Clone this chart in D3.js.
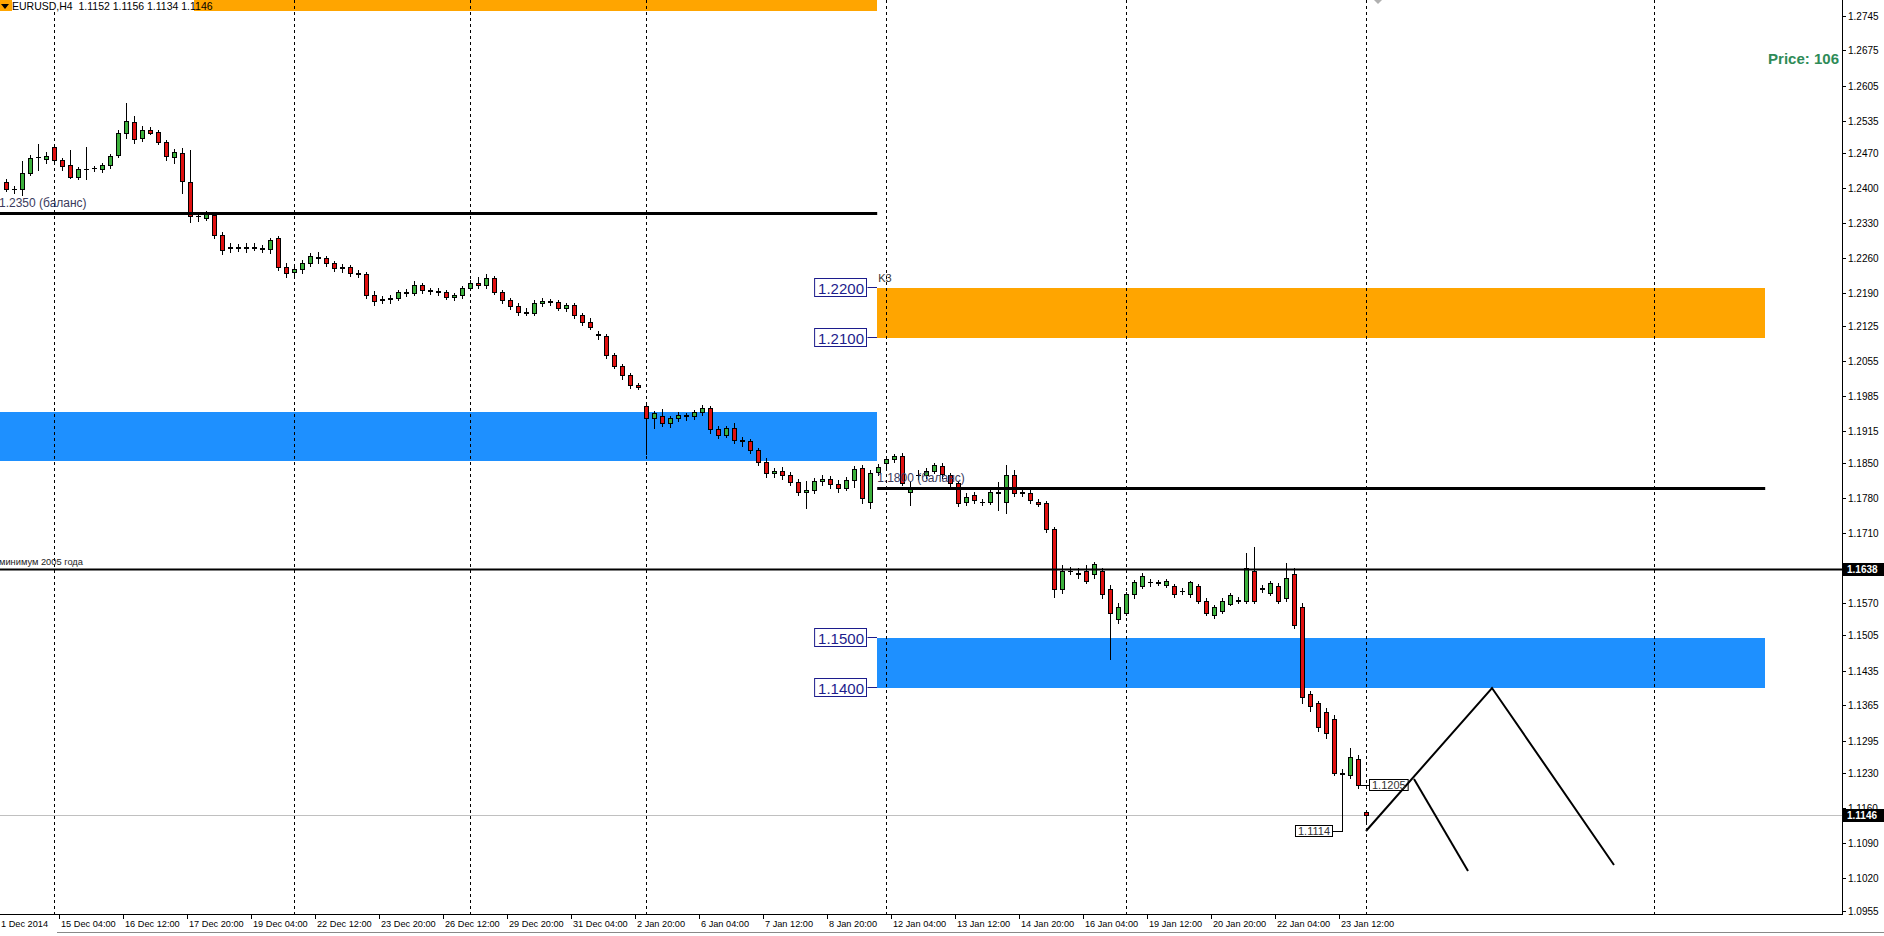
<!DOCTYPE html>
<html><head><meta charset="utf-8">
<script src="https://cdn.jsdelivr.net/npm/d3@7"></script>
<style>body{margin:0;background:#fff;overflow:hidden}svg{display:block}</style>
</head><body>
<svg id="c" width="1884" height="936"></svg>
<script>
// ---------------- DATA ----------------
const firstBar = -6; // bar index of first candle (0 = 15 Dec 00:00)
const opens  = [1.2412,1.2398,1.2398,1.2430,1.2462,1.2458,
1.2482,1.2456,1.2446,1.2422,1.2438,1.2440,
1.2438,1.2446,1.2466,1.2510,1.2532,1.2500,
1.2516,1.2512,1.2492,1.2462,1.2470,1.2412,
1.2344,1.2340,1.2346,1.2306,1.2280,1.2282,
1.2280,1.2282,1.2280,1.2278,1.2300,1.2243,
1.2232,1.2238,1.2250,1.2262,1.2260,1.2250,
1.2240,1.2242,1.2230,1.2228,1.2186,1.2176,
1.2178,1.2180,1.2192,1.2190,
1.2206,1.2196,1.2194,1.2192,1.2182,1.2186,
1.2200,1.2210,1.2206,1.2220,1.2192,1.2176,
1.2164,1.2152,1.2150,1.2170,1.2174,1.2172,
1.2160,1.2166,1.2146,1.2132,
1.2108,1.2104,1.2066,1.2044,1.2026,1.2006,
1.1964,1.1940,1.1945,1.1930,1.1940,1.1946,
1.1944,1.1952,1.1960,1.1918,1.1906,1.1920,
1.1896,1.1894,1.1876,1.1852,1.1830,1.1834,
1.1826,1.1812,1.1792,1.1796,1.1814,1.1818,
1.1808,1.1800,1.1816,1.1840,1.1772,1.1832,
1.1850,1.1858,1.1864,1.1792,1.1826,1.1826,
1.1835,1.1844,1.1826,1.1810,1.1772,1.1786,
1.1772,1.1772,1.1790,1.1772,1.1826,1.1790,
1.1790,1.1772,1.1770,1.1718,1.1599,1.1635,
1.1630,1.1635,1.1627,1.1635,1.1599,1.1538,
1.1550,1.1587,1.1604,1.1611,1.1611,1.1606,
1.1603,1.1594,1.1587,1.1603,1.1575,1.1545,
1.1555,1.1568,1.1575,1.1575,1.1635,1.1599,
1.1590,1.1603,1.1580,1.1627,1.1562,1.1387,
1.1370,1.1353,1.1339,1.1231,1.1226,1.1258,
1.1152];
const highs  = [1.2418,1.2404,1.2454,1.2466,1.2488,1.2472,
1.2486,1.2460,1.2476,1.2442,1.2482,1.2444,
1.2450,1.2468,1.2516,1.2570,1.2545,1.2525,
1.2522,1.2515,1.2496,1.2478,1.2480,1.2476,
1.2352,1.2354,1.2350,1.2312,1.2290,1.2288,
1.2290,1.2290,1.2286,1.2300,1.2304,1.2250,
1.2245,1.2256,1.2270,1.2272,1.2265,1.2255,
1.2248,1.2246,1.2236,1.2232,1.2194,1.2184,
1.2186,1.2196,1.2198,1.2215,
1.2210,1.2200,1.2200,1.2196,1.2190,1.2204,
1.2216,1.2222,1.2228,1.2224,1.2196,1.2180,
1.2170,1.2160,1.2176,1.2180,1.2178,1.2176,
1.2170,1.2170,1.2150,1.2140,
1.2114,1.2108,1.2070,1.2048,1.2030,1.2010,
1.1971,1.1955,1.1958,1.1945,1.1952,1.1950,
1.1956,1.1966,1.1964,1.1925,1.1925,1.1930,
1.1902,1.1898,1.1880,1.1860,1.1840,1.1842,
1.1832,1.1818,1.1815,1.1820,1.1826,1.1824,
1.1816,1.1822,1.1844,1.1846,1.1836,1.1848,
1.1860,1.1868,1.1870,1.1812,1.1836,1.1840,
1.1850,1.1850,1.1830,1.1814,1.1790,1.1792,
1.1778,1.1796,1.1812,1.1846,1.1836,1.1796,
1.1796,1.1778,1.1774,1.1722,1.1645,1.1642,
1.1640,1.1645,1.1652,1.1640,1.1605,1.1570,
1.1592,1.1616,1.1630,1.1618,1.1616,1.1618,
1.1608,1.1600,1.1615,1.1608,1.1580,1.1566,
1.1580,1.1590,1.1582,1.1670,1.1683,1.1606,
1.1615,1.1610,1.1650,1.1640,1.1570,1.1395,
1.1375,1.1360,1.1345,1.1238,1.1280,1.1265,
1.1156];
const lows   = [1.2394,1.2390,1.2386,1.2426,1.2436,1.2450,
1.2450,1.2436,1.2420,1.2418,1.2418,1.2434,
1.2432,1.2440,1.2462,1.2500,1.2490,1.2495,
1.2508,1.2488,1.2456,1.2450,1.2390,1.2332,
1.2334,1.2336,1.2300,1.2268,1.2272,1.2274,
1.2272,1.2276,1.2272,1.2270,1.2236,1.2222,
1.2225,1.2230,1.2245,1.2250,1.2245,1.2235,
1.2232,1.2225,1.2222,1.2180,1.2166,1.2170,
1.2170,1.2176,1.2184,1.2186,
1.2190,1.2188,1.2186,1.2178,1.2176,1.2180,
1.2196,1.2200,1.2200,1.2188,1.2170,1.2158,
1.2146,1.2146,1.2146,1.2164,1.2166,1.2156,
1.2154,1.2140,1.2126,1.2118,
1.2098,1.2060,1.2040,1.2018,1.2000,1.1998,
1.1868,1.1920,1.1925,1.1922,1.1934,1.1936,
1.1938,1.1946,1.1910,1.1900,1.1902,1.1890,
1.1884,1.1870,1.1846,1.1822,1.1822,1.1818,
1.1806,1.1786,1.1760,1.1790,1.1806,1.1800,
1.1792,1.1796,1.1802,1.1770,1.1760,1.1826,
1.1842,1.1852,1.1806,1.1766,1.1818,1.1820,
1.1830,1.1820,1.1800,1.1764,1.1766,1.1770,
1.1766,1.1768,1.1756,1.1750,1.1784,1.1784,
1.1770,1.1764,1.1712,1.1582,1.1590,1.1628,
1.1620,1.1610,1.1620,1.1580,1.1459,1.1530,
1.1545,1.1580,1.1600,1.1604,1.1606,1.1602,
1.1582,1.1588,1.1582,1.1570,1.1545,1.1540,
1.1550,1.1565,1.1570,1.1570,1.1570,1.1592,
1.1585,1.1570,1.1575,1.1520,1.1370,1.1355,
1.1315,1.1300,1.1225,1.1114,1.1220,1.1200,
1.1134];
const closes = [1.2398,1.2399,1.2430,1.2460,1.2463,1.2464,
1.2456,1.2444,1.2422,1.2438,1.2439,1.2441,
1.2446,1.2464,1.2510,1.2534,1.2498,1.2516,
1.2510,1.2492,1.2464,1.2472,1.2414,1.2344,
1.2345,1.2348,1.2306,1.2276,1.2282,1.2280,
1.2282,1.2280,1.2278,1.2296,1.2243,1.2230,
1.2238,1.2250,1.2264,1.2260,1.2250,1.2240,
1.2242,1.2230,1.2228,1.2186,1.2175,1.2178,
1.2180,1.2192,1.2190,1.2206,
1.2196,1.2194,1.2192,1.2182,1.2186,1.2200,
1.2210,1.2206,1.2220,1.2192,1.2176,1.2164,
1.2152,1.2150,1.2170,1.2174,1.2172,1.2160,
1.2166,1.2146,1.2132,1.2122,
1.2106,1.2066,1.2044,1.2026,1.2006,1.2003,
1.1940,1.1950,1.1930,1.1940,1.1946,1.1944,
1.1952,1.1960,1.1918,1.1906,1.1920,1.1896,
1.1894,1.1876,1.1852,1.1830,1.1834,1.1826,
1.1812,1.1792,1.1796,1.1814,1.1818,1.1808,
1.1800,1.1816,1.1838,1.1780,1.1830,1.1842,
1.1858,1.1864,1.1810,1.1802,1.1826,1.1834,
1.1846,1.1828,1.1810,1.1770,1.1782,1.1776,
1.1773,1.1792,1.1792,1.1826,1.1790,1.1791,
1.1776,1.1768,1.1718,1.1599,1.1635,1.1634,
1.1627,1.1615,1.1647,1.1587,1.1550,1.1562,
1.1587,1.1611,1.1623,1.1612,1.1610,1.1614,
1.1587,1.1595,1.1611,1.1575,1.1550,1.1562,
1.1575,1.1585,1.1576,1.1640,1.1575,1.1600,
1.1610,1.1575,1.1620,1.1526,1.1382,1.1363,
1.1322,1.1310,1.1231,1.1228,1.1262,1.1205,
1.1146];

const priceTicks = [1.2745,1.2675,1.2605,1.2535,1.2470,1.2400,1.2330,1.2260,1.2190,1.2125,1.2055,1.1985,1.1915,1.1850,1.1780,1.1710,1.1570,1.1505,1.1435,1.1365,1.1295,1.1230,1.1160,1.1090,1.1020,1.0955];
const timeTickBars   = [1,9,17,25,33,41,49,57,65,73,81,89,97,105,113,121,129,137,145,153,161];
const timeTickLabels = ["15 Dec 04:00","16 Dec 12:00","17 Dec 20:00","19 Dec 04:00","22 Dec 12:00","23 Dec 20:00","26 Dec 12:00","29 Dec 20:00","31 Dec 04:00","2 Jan 20:00","6 Jan 04:00","7 Jan 12:00","8 Jan 20:00","12 Jan 04:00","13 Jan 12:00","14 Jan 20:00","16 Jan 04:00","19 Jan 12:00","20 Jan 20:00","22 Jan 04:00","23 Jan 12:00"];
const firstTimeLabel = "1 Dec 2014";
const separatorBars = [0,30,52,74,104,134,164,200];

// zones (rectangles): price top/bottom, start/end bar
const zoneTop      = [1.2900, 1.1953, 1.2200, 1.1500];
const zoneBottom   = [1.2754, 1.1855, 1.2100, 1.1400];
const zoneStart    = [-8, -8, 102.9, 102.9];
const zoneEnd      = [102.9, 102.9, 213.9, 213.9];
const zoneIsOrange = [true, false, true, false];

// horizontal levels
const levelPrice  = [1.2350, 1.1800, 1.1638];
const levelStart  = [-8, 102.9, -8];
const levelEnd    = [102.9, 213.9, 223.5];
const levelLabels = ["1.2350 (баланс)", "1.1800 (баланс)", "минимум 2005 года"];

// price label boxes at the zone edges
const edgeLabelPrices = [1.2200, 1.2100, 1.1500, 1.1400];
const edgeLabelTexts  = ["1.2200", "1.2100", "1.1500", "1.1400"];

const bidPrice = 1.1146;
const hiLabelPrices = [1.1638, 1.1146];

// forecast zigzags
const zigABars = [164, 179.75, 195];
const zigAPrices = [1.1114, 1.1400, 1.1046];
const zigBBars = [170, 176.75];
const zigBPrices = [1.1218, 1.1034];

// small price tags
const tagBars = [163, 161];
const tagPrices = [1.1205, 1.1114];
const tagTexts = ["1.1205", "1.1114"];

// arrow object at the top edge
const markBar = 165.5;

const titleText = "EURUSD,H4  1.1152 1.1156 1.1134 1.1146";
const infoText = "Price: 106";

// ---------------- DRAW ----------------
const W = 1884, H = 936, plotR = 1842, plotB = 914;
const FONT = "'Liberation Sans', Arial, sans-serif";
const svg = d3.select("#c");
const x = d3.scaleLinear().domain([-6.75, 223.5]).range([0, plotR]);
const y = d3.scaleLinear().domain([1.0948, 1.2776]).range([plotB, 0]);

svg.append("rect").attr("width", W).attr("height", H).attr("fill", "#fff");
svg.append("defs").append("clipPath").attr("id", "plot")
  .append("rect").attr("x", 0).attr("y", 0).attr("width", plotR).attr("height", plotB);
const g = svg.append("g").attr("clip-path", "url(#plot)");

// zones
const zones = d3.range(zoneTop.length).map(i => ({t: zoneTop[i], b: zoneBottom[i], s: zoneStart[i], e: zoneEnd[i], o: zoneIsOrange[i]}));
g.selectAll("rect.zone").data(zones).join("rect").attr("class", "zone")
  .attr("x", d => Math.round(x(d.s))).attr("y", d => Math.round(y(d.t)))
  .attr("width", d => Math.round(x(d.e)) - Math.round(x(d.s)))
  .attr("height", d => Math.round(y(d.b)) - Math.round(y(d.t)))
  .attr("fill", d => d.o ? "#FFA500" : "#1E90FF");

// separators
g.selectAll("line.sep").data(separatorBars).join("line").attr("class", "sep")
  .attr("x1", d => Math.round(x(d)) + 0.5).attr("x2", d => Math.round(x(d)) + 0.5)
  .attr("y1", 0).attr("y2", plotB)
  .attr("stroke", "#000").attr("stroke-width", 1).attr("stroke-dasharray", "3,3");

// bid line
g.append("line").attr("x1", 0).attr("x2", plotR)
  .attr("y1", Math.round(y(bidPrice)) + 0.5).attr("y2", Math.round(y(bidPrice)) + 0.5)
  .attr("stroke", "#C0C0C0").attr("stroke-width", 1);

// candles
const bars = opens.map((o, k) => ({i: firstBar + k, o, h: highs[k], l: lows[k], c: closes[k]}));
const cg = g.append("g");
const cand = cg.selectAll("g").data(bars).join("g");
cand.append("line")
  .attr("x1", d => Math.round(x(d.i)) + 0.5).attr("x2", d => Math.round(x(d.i)) + 0.5)
  .attr("y1", d => Math.round(y(d.h))).attr("y2", d => Math.round(y(d.l)) + 1)
  .attr("stroke", "#000").attr("stroke-width", 1);
cand.each(function(d) {
  const s = d3.select(this);
  const cx = Math.round(x(d.i));
  const yo = Math.round(y(d.o)), yc = Math.round(y(d.c));
  if (Math.abs(yo - yc) < 1) {
    s.append("line").attr("x1", cx - 2).attr("x2", cx + 3)
      .attr("y1", yo + 0.5).attr("y2", yo + 0.5).attr("stroke", "#000");
  } else {
    const top = Math.min(yo, yc), bot = Math.max(yo, yc);
    s.append("rect").attr("x", cx - 1.5).attr("y", top + 0.5)
      .attr("width", 4).attr("height", bot - top)
      .attr("fill", d.c > d.o ? "#3CB03C" : "#E01010")
      .attr("stroke", "#000").attr("stroke-width", 1);
  }
});

// levels
const levels = levelPrice.map((p, i) => ({p, s: levelStart[i], e: levelEnd[i], t: levelLabels[i]}));
g.selectAll("line.lvl").data(levels).join("line").attr("class", "lvl")
  .attr("x1", d => x(d.s)).attr("x2", d => x(d.e))
  .attr("y1", d => Math.round(y(d.p)) + 0.5).attr("y2", d => Math.round(y(d.p)) + 0.5)
  .attr("stroke", "#000").attr("stroke-width", (d, i) => i === 2 ? 2 : 3);
g.selectAll("text.lvl").data(levels).join("text").attr("class", "lvl")
  .attr("x", d => Math.max(0, x(d.s)) + (d.s < 0 ? -1 : 0))
  .attr("y", (d, i) => Math.round(y(d.p)) - (i === 2 ? 4 : 6))
  .attr("font-family", FONT)
  .attr("font-size", (d, i) => i === 2 ? 9.3 : 12)
  .attr("fill", (d, i) => i === 2 ? "#222" : "#3a3a5c")
  .text(d => d.t);

// K3 label
g.append("text").attr("x", x(zoneStart[2]) + 1).attr("y", y(zoneTop[2]) - 6)
  .attr("font-family", FONT).attr("font-size", 11).attr("fill", "#333").text("K3");

// top arrow mark
g.append("path")
  .attr("d", `M${x(markBar) - 5},${-1} L${x(markBar)},${4} L${x(markBar) + 5},${-1} Z`)
  .attr("fill", "#B0B0B0");

// zone edge price labels
const edge = svg.append("g");
edgeLabelPrices.forEach((p, i) => {
  const yy = Math.round(y(p));
  const right = Math.round(x(zoneStart[2])) - 10;
  const t = edge.append("text").attr("x", right - 3).attr("y", yy + 5.5)
    .attr("text-anchor", "end").attr("font-family", FONT).attr("font-size", 15)
    .attr("fill", "#1c1c8c").text(edgeLabelTexts[i]);
  const bb = t.node().getBBox();
  edge.insert("rect", "text").attr("x", bb.x - 3.5).attr("y", yy - 9.5)
    .attr("width", bb.width + 6).attr("height", 18)
    .attr("fill", "#fff").attr("stroke", "#1c1c8c").attr("stroke-width", 1);
  edge.append("line").attr("x1", right + 0.5).attr("x2", Math.round(x(zoneStart[2])))
    .attr("y1", yy - 0.5).attr("y2", yy - 0.5).attr("stroke", "#1c1c8c");
});

// zigzags
const line = d3.line().x(d => x(d[0])).y(d => y(d[1]));
g.append("path").attr("d", line(zigABars.map((b, i) => [b, zigAPrices[i]])))
  .attr("fill", "none").attr("stroke", "#000").attr("stroke-width", 2);
g.append("path").attr("d", line(zigBBars.map((b, i) => [b, zigBPrices[i]])))
  .attr("fill", "none").attr("stroke", "#000").attr("stroke-width", 2);

// price tags
tagPrices.forEach((p, i) => {
  const cx = Math.round(x(tagBars[i]));
  const yy = Math.round(y(p));
  if (i === 0) {
    g.append("line").attr("x1", cx).attr("x2", cx + 11).attr("y1", yy + 0.5).attr("y2", yy + 0.5).attr("stroke", "#000");
    const t = g.append("text").attr("x", cx + 14).attr("y", yy + 4).attr("font-family", FONT).attr("font-size", 11).attr("fill", "#333").text(tagTexts[i]);
    const bb = t.node().getBBox();
    g.insert("rect", "text").attr("x", cx + 11.5).attr("y", yy - 5.5).attr("width", bb.width + 5).attr("height", 11).attr("fill", "#fff").attr("stroke", "#000");
  } else {
    g.append("line").attr("x1", cx - 9).attr("x2", cx + 0.5).attr("y1", yy + 0.5).attr("y2", yy + 0.5).attr("stroke", "#000");
    const t = g.append("text").attr("x", cx - 12).attr("y", yy + 4).attr("text-anchor", "end").attr("font-family", FONT).attr("font-size", 11).attr("fill", "#333").text(tagTexts[i]);
    const bb = t.node().getBBox();
    g.insert("rect", "text").attr("x", bb.x - 2.5).attr("y", yy - 5.5).attr("width", bb.width + 5).attr("height", 11).attr("fill", "#fff").attr("stroke", "#000");
  }
});

// title
const tg = svg.append("g");
tg.append("rect").attr("x", 12).attr("y", 0).attr("width", 182).attr("height", 11).attr("fill", "#fff");
tg.append("path").attr("d", "M1,4 L9,4 L5,9 Z").attr("fill", "#000");
tg.append("text").attr("x", 12).attr("y", 9.5).attr("font-family", FONT).attr("font-size", 10.5)
  .attr("fill", "#000").style("white-space", "pre").text(titleText);

// info text
svg.append("text").attr("x", 1839).attr("y", 64).attr("text-anchor", "end")
  .attr("font-family", FONT).attr("font-weight", "bold").attr("font-size", 15)
  .attr("fill", "#2E8B57").text(infoText);

// frame
svg.append("line").attr("x1", plotR + 0.5).attr("x2", plotR + 0.5).attr("y1", 0).attr("y2", plotB + 1).attr("stroke", "#000");
svg.append("line").attr("x1", 0).attr("x2", plotR + 1).attr("y1", plotB + 0.5).attr("y2", plotB + 0.5).attr("stroke", "#000");

// right axis
const ra = svg.append("g");
ra.selectAll("line").data(priceTicks).join("line")
  .attr("x1", plotR + 1).attr("x2", plotR + 4)
  .attr("y1", d => Math.round(y(d)) + 0.5).attr("y2", d => Math.round(y(d)) + 0.5).attr("stroke", "#000");
ra.selectAll("text").data(priceTicks).join("text")
  .attr("x", plotR + 6).attr("y", d => Math.round(y(d)) + 3.5)
  .attr("font-family", FONT).attr("font-size", 10).attr("fill", "#000")
  .text(d => d.toFixed(4));
hiLabelPrices.forEach(p => {
  const yy = Math.round(y(p));
  ra.append("rect").attr("x", plotR + 1).attr("y", yy - 6).attr("width", W - plotR - 1).attr("height", 13).attr("fill", "#000");
  ra.append("text").attr("x", plotR + 5).attr("y", yy + 4).attr("font-family", FONT).attr("font-size", 10)
    .attr("font-weight", "bold").attr("fill", "#fff").text(p.toFixed(4));
});

// bottom axis
const ba = svg.append("g");
ba.selectAll("line").data(timeTickBars).join("line")
  .attr("x1", d => Math.round(x(d)) - 2.5).attr("x2", d => Math.round(x(d)) - 2.5)
  .attr("y1", plotB + 1).attr("y2", plotB + 5).attr("stroke", "#000");
ba.selectAll("text").data(timeTickBars).join("text")
  .attr("x", d => Math.round(x(d)) - 1).attr("y", plotB + 13)
  .attr("font-family", FONT).attr("font-size", 9.2).attr("fill", "#000")
  .text((d, i) => timeTickLabels[i]);
ba.append("text").attr("x", 1).attr("y", plotB + 13).attr("font-family", FONT).attr("font-size", 9.2).text(firstTimeLabel);
svg.append("line").attr("x1", 57).attr("x2", W).attr("y1", 932.5).attr("y2", 932.5).attr("stroke", "#888");
</script>
</body></html>
